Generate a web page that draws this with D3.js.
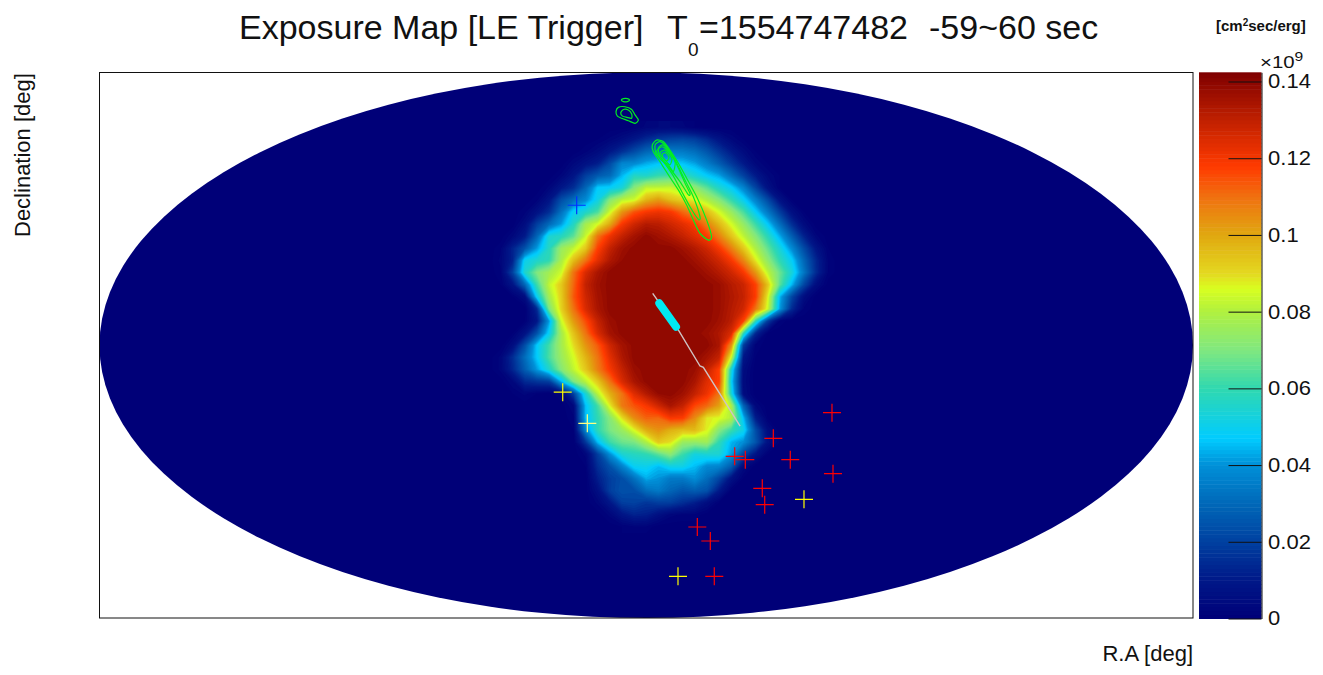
<!DOCTYPE html>
<html>
<head>
<meta charset="utf-8">
<script src="https://cdn.jsdelivr.net/npm/d3@7"></script>
<style>
  body { margin: 0; background: #fff; }
  text { font-family: "Liberation Sans", sans-serif; fill: #111; }
</style>
</head>
<body>
<div id="chart"></div>
<script>
// exposure, in units of 0.01 x 10^9
// rows run from dec 72 down to dec -60, columns from ra -52 to ra 64, 4 deg apart
const gridRaStart = -52, gridDecStart = 72, gridStep = 4;
const exposure = [
  [0,0,0,0,0,0,0,0,0,0,0,0,.1,.3,.4,.4,.3,.1,0,0,0,0,0,0,0,0,0,0,0,0],
  [0,0,0,0,0,0,0,0,0,.1,.3,.6,1,1.5,1.9,2.1,2.2,2,1.5,.9,.4,.1,0,0,0,0,0,0,0,0],
  [0,0,0,0,0,0,0,0,.2,.5,1,1.6,2.3,3,3.3,3.6,3.5,3.2,2.6,1.8,1.1,.5,.1,0,0,0,0,0,0,0],
  [0,0,0,0,0,0,0,.4,.8,1.2,2.3,3.8,3.9,4.4,4.7,4.8,4.7,4.3,3.6,2.8,1.9,1.1,.4,.1,0,0,0,0,0,0],
  [0,0,0,0,0,0,.3,.9,2,2.7,3.1,4.5,5.7,5.6,6.1,6.3,6.1,5.4,4.8,4.3,3.2,2.1,1.1,.4,.1,0,0,0,0,0],
  [0,0,0,0,0,.3,1,1.6,3,4.8,4.9,5.4,7.2,8.3,8.3,8.4,8,7.4,6.6,5.6,4.9,3.8,2.2,.8,.1,0,0,0,0,0],
  [0,0,0,0,.2,.9,2.4,3.2,3.9,5.2,7.2,8.2,8.5,9.8,10.3,9.6,9.2,8.7,8,7.2,6.1,5,3.7,2.3,.8,.1,0,0,0,0],
  [0,0,0,.2,.8,1.6,3.3,5,5.6,6.4,8.5,10.4,11.5,12,12.2,12,11.2,10.5,9.6,8.6,7.6,6.4,4.9,3.5,2,.7,.1,0,0,0],
  [0,0,0,.6,2,3.1,4.2,5.7,7.8,8.6,10,12,12.8,13.3,13.2,12.8,12.4,11.9,10.8,9.7,8.6,7.5,6.2,4.8,3.2,1.6,.5,0,0,0],
  [0,0,.4,1.1,3,5.5,5.8,6.6,8.4,11,12.2,13,13.6,14,13.7,13.4,13,12.5,11.9,10.8,9.5,8.3,7.2,5.9,4.4,2.8,1.3,.3,0,0],
  [0,.2,1.3,2.5,4.2,5.8,7.6,8.3,9.4,11.8,13,13.7,14,14,14,14,13.7,13.3,12.8,12,10.8,9.4,8,6.7,5.4,3.9,2.3,.9,.1,0],
  [0,.3,1.3,5.1,5.6,6,7.9,9.6,11,12.4,13.4,13.9,14,14,14,14,14,13.7,13.3,12.8,12,10.7,8.9,7.4,6,4.9,3,1.4,.2,0],
  [0,.2,2.1,5.6,7.1,7.8,8.5,11,12.6,13.5,14,14,14,14,14,14,14,14,13.7,13.3,12.8,12,10.4,8.3,6.8,5.4,3.4,1.5,.2,0],
  [0,.1,.9,3,6.2,8.3,9.4,11.2,13,13.7,14,14,14,14,14,14,14,14,14,13.8,13.3,12.9,11.8,9.5,6.6,4.5,2.2,.6,0,0],
  [0,0,.1,.6,5,7.8,9.3,11.4,12.8,13.6,14,14,14,14,14,14,14,14,14,13.8,13.4,13,11.9,8.8,4.5,2.2,.6,0,0,0],
  [0,0,0,0,1.5,7,9.2,11,12.6,13.5,14,14,14,14,14,14,14,14,14,13.8,13.3,12.8,11,8.5,4.2,1.5,.2,0,0,0],
  [0,0,0,.1,1,4.2,8.5,10.3,11.6,13,13.8,14,14,14,14,14,14,14,14,13.7,13.2,11.8,6,2,.2,0,0,0,0,0],
  [0,0,.1,.8,2.5,5,7.8,9.5,11,12.6,13.6,14,14,14,14,14,14,14,13.8,13.4,12.6,6,1.5,.1,0,0,0,0,0,0],
  [0,0,.6,2.4,4.8,6.3,7.8,9,10.4,11.4,12.8,13.6,14,14,14,14,14,14,14,13.5,10.5,2,.2,0,0,0,0,0,0,0],
  [0,.3,1.6,3.2,4.8,6.4,7.6,8.6,9.8,11,12.4,13.4,14,14,14,14,14,14,13.6,13,8.5,1,.1,0,0,0,0,0,0,0],
  [0,.3,1.4,2.8,4.2,5.6,7.2,8.3,9.4,10.8,12,13,13.8,14,14,14,14,13.8,13,11.8,5.5,.6,0,0,0,0,0,0,0,0],
  [0,0,.4,1.5,1.8,2,4.5,7,8.2,9.4,11,12.6,13.5,14,14,14,14,13.5,12.5,11.8,5,.5,0,0,0,0,0,0,0,0],
  [0,0,.1,.3,.1,0,.3,2,5.5,8.2,9.9,11,12.5,13.3,13.9,14,13.7,13,12.2,11,5.5,.6,0,0,0,0,0,0,0,0],
  [0,0,0,0,0,0,0,.4,4.6,6.3,8.8,10.9,11.5,12,12.8,13.5,13,11.7,11.2,10.2,8,3,.4,0,0,0,0,0,0,0],
  [0,0,0,0,0,0,0,.2,4.6,6,7.2,9,10.6,11.3,11.2,12,11.9,10.6,8.9,8.7,8.1,4.6,1.2,.1,0,0,0,0,0,0],
  [0,0,0,0,0,0,0,.1,3.8,6,7,7.6,8.7,10,10.5,9.9,9.6,9.7,8.8,7.2,6.2,5.2,2.4,.6,0,0,0,0,0,0],
  [0,0,0,0,0,0,0,0,1.8,4.6,6.2,6.8,7,8,9.4,9,7.6,7.5,7.7,6,4.5,4,2.6,.8,.1,0,0,0,0,0],
  [0,0,0,0,0,0,0,0,.3,2,4,5.5,5.8,6,6.6,7.3,6.2,5.3,5.5,5.5,4.2,2.2,.9,.1,0,0,0,0,0,0],
  [0,0,0,0,0,0,0,0,.1,1.6,2.5,3.7,5,5.1,4.6,5.2,5.2,4.6,3.9,3.8,2.8,.5,0,0,0,0,0,0,0,0],
  [0,0,0,0,0,0,0,0,0,1.2,2,2.4,3.3,4.4,4.1,3.5,3.5,4,3.2,2.2,.8,.1,0,0,0,0,0,0,0,0],
  [0,0,0,0,0,0,0,0,0,.7,2,2.5,2.4,3.2,3.5,3,2.6,2.8,2.5,1.1,.1,0,0,0,0,0,0,0,0,0],
  [0,0,0,0,0,0,0,0,0,.3,1,2,2.1,1.8,2,2,1.6,1.2,.6,.1,0,0,0,0,0,0,0,0,0,0],
  [0,0,0,0,0,0,0,0,0,0,.3,.9,1.3,1.2,.7,.3,.2,.2,0,0,0,0,0,0,0,0,0,0,0,0],
  [0,0,0,0,0,0,0,0,0,0,0,.1,.2,.2,0,0,0,0,0,0,0,0,0,0,0,0,0,0,0,0]
];

// palette of the colour bar
const paletteValues = [0, 1, 2, 3, 4, 4.7, 6, 7, 8, 8.6, 9, 10, 11, 11.8, 13, 14.24];
const paletteColors = ["#000078", "#001888", "#0040a0", "#0068b8", "#0090d8", "#00ccff", "#30d8b0",
  "#80e880", "#b0f040", "#d8ff20", "#e4d820", "#e0a810", "#f07010", "#ff3a00", "#c02000", "#7f0000"];

const barTop = 0.1424;
const barTicks = [0, 0.02, 0.04, 0.06, 0.08, 0.1, 0.12, 0.14];
const barTickLabels = ["0", "0.02", "0.04", "0.06", "0.08", "0.1", "0.12", "0.14"];

// sources as [ra, dec]
const redSources = [[61.15, -22.26], [41.83, -30.7], [29.12, -36.64], [32.61, -37.77], [47.42, -37.77],
  [61.48, -42.38], [38.2, -47.2], [39, -52.6], [16.81, -59.97], [21.09, -64.6], [22.4, -76.24]];
const yellowSources = [[-27.5, -15.5], [51.93, -50.83], [10.45, -76.24]];
const paleSources = [[-19.4, -25.75]];
const blueSources = [[-22.9, 46.2]];

// track and pointing
const greyTrack = [[2.12, 17.14], [10.55, 5.03], [17.7, -6.85], [18.8, -7.28], [30.9, -26.7]];
const cyanTrack = [[4.3, 13.84], [9.8, 6.12]];

// green localisation contours
const greenContours = [
  [[-8.2, 80.9], [-7.5, 81.4], [-6.2, 81.4], [-5.5, 80.9], [-6.2, 80.4], [-7.5, 80.4]],
  [[-9.96, 77.1], [-9.2, 78.5], [-7, 78.7], [-4.8, 77.8], [-3.7, 76], [-2.6, 74.3], [-3.7, 73.2], [-5.9, 74.1], [-8.1, 74.9], [-9.5, 75.6]],
  [[-8.4, 76.7], [-7.5, 77.8], [-5.9, 77.6], [-4.8, 76.3], [-4.8, 74.9], [-6.4, 75.2], [-7.8, 75.6]],
  [[2, 66.1], [3.4, 67.7], [5.6, 67.2], [7.8, 64.4], [10.6, 60], [13.3, 55.1], [16.6, 49], [19.9, 41.3], [21.5, 35.8], [20.4, 34.7], [17.7, 36.9], [15.5, 41.3], [13.3, 46.3], [10.6, 51.2], [7.3, 56.2], [4.5, 60.6], [2.3, 63.9]],
  [[2.9, 66.1], [4.5, 67.2], [6.7, 65.5], [9.5, 61.1], [12.2, 55.6], [15.5, 49], [17.7, 42.4], [17.2, 41.5], [14.4, 45.7], [11.1, 51.8], [8.4, 56.7], [5.6, 60.6], [3.2, 63.3]],
  [[4, 65], [5.6, 66.1], [8.4, 62.8], [10.6, 58.4], [12.8, 53.4], [14.4, 50.1], [13.9, 49.6], [11.1, 54], [7.3, 58.9], [4.5, 62.2]],
  [[3.4, 63.9], [5.1, 65.5], [7.3, 63.9], [9.5, 60.6], [8.9, 57.3], [7.3, 59.5], [5.1, 61.1]],
  [[4.5, 63.3], [6.2, 64.4], [8.4, 61.7], [7.8, 59.5], [6.2, 61.1]],
  [[5.3, 63.1], [6.5, 63.5], [7.5, 61.9], [6.7, 60.8], [5.6, 61.7]]
];

const svg = d3.select("#chart").append("svg")
  .attr("width", 1323)
  .attr("height", 675)
  .style("display", "block");

// map scales, the map is shown already projected into its frame
const x = d3.scaleLinear().domain([-180, 180]).range([99.5, 1193]);
const y = d3.scaleLinear().domain([-90, 90]).range([618, 72.5]);

const color = d3.scaleLinear().domain(paletteValues).range(paletteColors);

svg.append("clipPath").attr("id", "sky")
  .append("ellipse")
    .attr("cx", x(0)).attr("cy", y(0))
    .attr("rx", x(180) - x(0)).attr("ry", y(0) - y(90));

const map = svg.append("g").attr("clip-path", "url(#sky)");

map.append("rect")
  .attr("x", x(-180)).attr("y", y(90))
  .attr("width", x(180) - x(-180)).attr("height", y(-90) - y(90))
  .attr("fill", color(0));

// filled bands of the exposure grid
const nCols = exposure[0].length, nRows = exposure.length;
const bands = d3.contours()
  .size([nCols, nRows])
  .thresholds(d3.range(0.1, 14.2, 0.15))(exposure.flat());

const gridPath = d3.geoPath(d3.geoTransform({
  point(gx, gy) {
    this.stream.point(x(gridRaStart + (gx - 0.5) * gridStep), y(gridDecStart - (gy - 0.5) * gridStep));
  }
}));

map.selectAll("path.band")
  .data(bands)
  .join("path")
    .attr("class", "band")
    .attr("d", gridPath)
    .attr("fill", d => color(d.value));

// frame
svg.append("rect")
  .attr("x", x(-180)).attr("y", y(90))
  .attr("width", x(180) - x(-180)).attr("height", y(-90) - y(90))
  .attr("fill", "none")
  .attr("stroke", "#111");

const line = d3.line().x(d => x(d[0])).y(d => y(d[1]));
const closedLine = d3.line().x(d => x(d[0])).y(d => y(d[1])).curve(d3.curveCardinalClosed.tension(0.3));

svg.selectAll("path.green")
  .data(greenContours)
  .join("path")
    .attr("class", "green")
    .attr("d", closedLine)
    .attr("fill", "none")
    .attr("stroke", "#00f020")
    .attr("stroke-width", 1.2);

svg.append("path").attr("d", line(greyTrack))
  .attr("fill", "none").attr("stroke", "#cfc4c4").attr("stroke-width", 1.4);
svg.append("path").attr("d", line(cyanTrack))
  .attr("fill", "none").attr("stroke", "#00eaf2").attr("stroke-width", 8).attr("stroke-linecap", "round");

// source crosses
const armLength = 9;
function drawCrosses(data, stroke) {
  const g = svg.append("g").attr("stroke", stroke).attr("stroke-width", 1.2);
  g.selectAll("path")
    .data(data)
    .join("path")
      .attr("d", d => `M${x(d[0]) - armLength},${y(d[1])}h${armLength * 2}M${x(d[0])},${y(d[1]) - armLength}v${armLength * 2}`);
}
drawCrosses(redSources, "#ff0000");
drawCrosses(yellowSources, "#ffff00");
drawCrosses(paleSources, "#ffff80");
drawCrosses(blueSources, "#0030ff");

// colour bar
const barY = d3.scaleLinear().domain([0, barTop]).range([618.5, 72.3]);
const barStep = 0.001;
svg.selectAll("rect.bar")
  .data(d3.range(0, barTop, barStep))
  .join("rect")
    .attr("class", "bar")
    .attr("x", 1199)
    .attr("y", d => barY(Math.min(d + barStep, barTop)))
    .attr("width", 62.5)
    .attr("height", d => barY(d) - barY(Math.min(d + barStep, barTop)) + 0.5)
    .attr("fill", d => color((d + barStep / 2) * 100));

const barAxis = svg.append("g")
  .attr("transform", "translate(1261.5,0)")
  .call(d3.axisRight(barY)
    .tickValues(barTicks)
    .tickFormat((d, i) => barTickLabels[i])
    .tickSize(-33)
    .tickSizeOuter(0)
    .tickPadding(6));
barAxis.selectAll("text")
  .style("font-size", "20px")
  .attr("transform", "scale(1.1,1)");
barAxis.selectAll("line,path").attr("stroke", "#111");

// title and labels
svg.append("text").attr("x", 239).attr("y", 39).style("font-size", "34px")
  .text("Exposure Map [LE Trigger]");
svg.append("text").attr("x", 667).attr("y", 39).style("font-size", "34px").text("T");
svg.append("text").attr("x", 688).attr("y", 56).style("font-size", "19px").text("0");
svg.append("text").attr("x", 699).attr("y", 39).style("font-size", "34px").text("=1554747482");
svg.append("text").attr("x", 929).attr("y", 39).style("font-size", "34px").text("-59~60 sec");

svg.append("text")
  .attr("transform", "translate(29.5,237) rotate(-90)")
  .style("font-size", "22px")
  .text("Declination [deg]");
svg.append("text").attr("x", 1193).attr("y", 661).attr("text-anchor", "end")
  .style("font-size", "22px").text("R.A [deg]");

const unit = svg.append("text").attr("x", 1216).attr("y", 31).style("font-size", "15px").style("font-weight", "bold");
unit.append("tspan").text("[cm");
unit.append("tspan").attr("dy", -5).style("font-size", "10px").text("2");
unit.append("tspan").attr("dy", 5).text("sec/erg]");

const exponent = svg.append("text")
  .attr("transform", "translate(1260,68) scale(1.2,1)")
  .style("font-size", "17px");
exponent.append("tspan").text("\u00d710");
exponent.append("tspan").attr("dy", -7).style("font-size", "13px").text("9");
</script>
</body>
</html>
